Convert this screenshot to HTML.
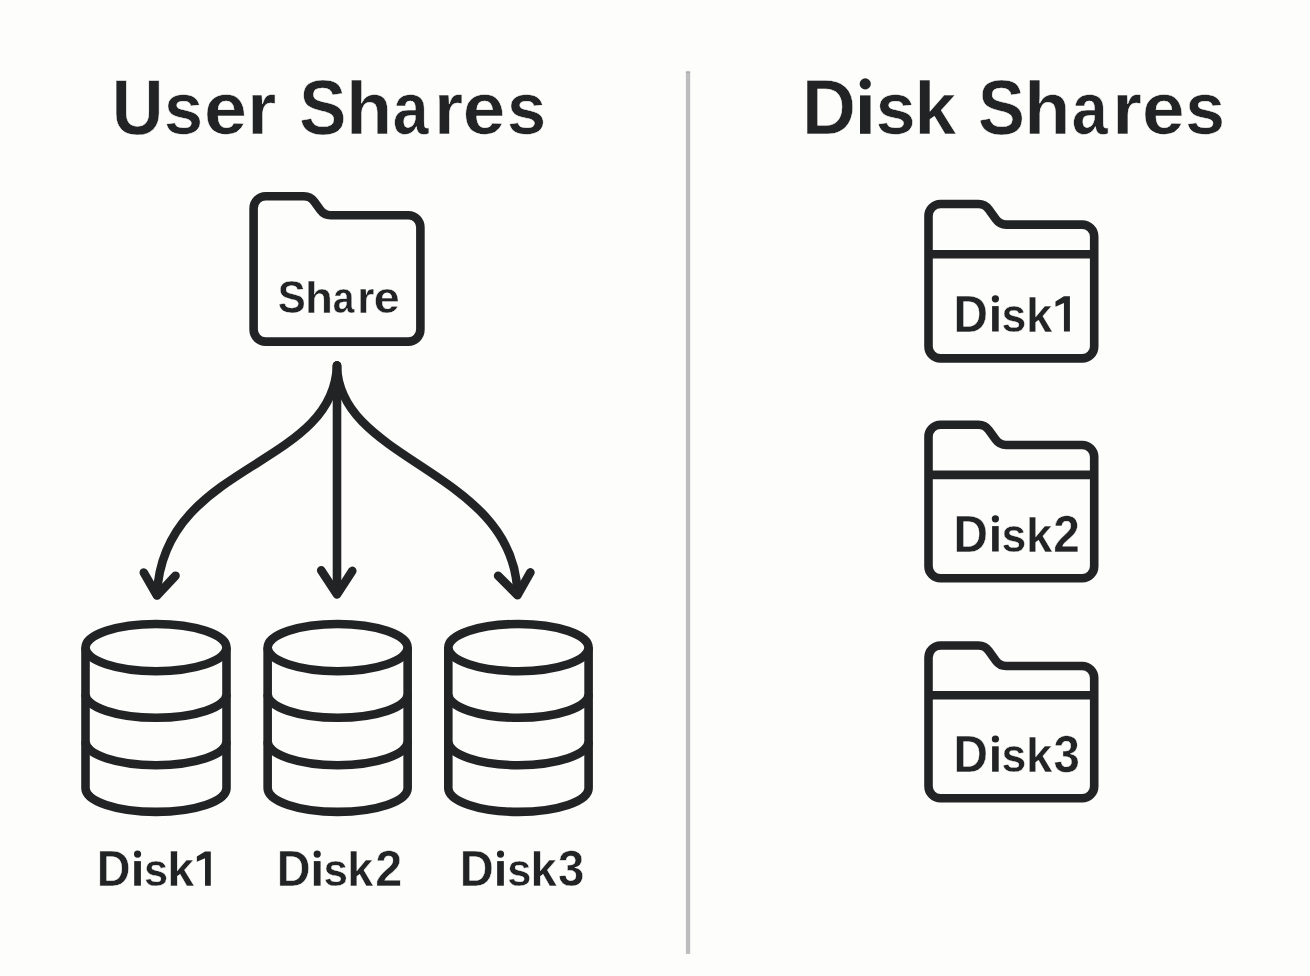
<!DOCTYPE html>
<html><head><meta charset="utf-8"><title>User Shares vs Disk Shares</title>
<style>html,body{margin:0;padding:0;background:#fdfdfc;width:1310px;height:976px;overflow:hidden}
svg{display:block;position:absolute;left:0;top:0;will-change:transform}</style></head>
<body><svg width="1310" height="976" viewBox="0 0 1310 976">
<rect x="685.9" y="71.5" width="4.3" height="882.4" fill="#bcbdbe"/><rect x="685.9" y="71.5" width="4.3" height="1.3" fill="#a9aaab"/>
<g font-family="&quot;Liberation Sans&quot;, sans-serif" font-weight="bold" fill="#222324">
<text transform="translate(111.65,133.70) scale(0.9183,1.0000)" font-size="77.98" stroke="#fdfdfc" stroke-width="0.521">U</text>
<text transform="translate(164.09,133.70) scale(0.8990,0.9403)" font-size="77.98" stroke="#fdfdfc" stroke-width="0.544">s</text>
<text transform="translate(204.08,133.70) scale(0.9905,0.9403)" font-size="77.98" stroke="#fdfdfc" stroke-width="0.518">e</text>
<text transform="translate(247.29,133.70) scale(0.9534,0.9403)" font-size="77.98" stroke="#fdfdfc" stroke-width="0.528">r</text>
<text transform="translate(299.13,133.70) scale(0.9062,1.0000)" font-size="77.98" stroke="#fdfdfc" stroke-width="0.525">S</text>
<text transform="translate(346.02,133.70) scale(0.9691,0.9499)" font-size="77.98" stroke="#fdfdfc" stroke-width="0.521">h</text>
<text transform="translate(392.71,133.70) scale(0.8250,0.9403)" font-size="77.98" stroke="#fdfdfc" stroke-width="0.567">a</text>
<text transform="translate(434.07,133.70) scale(0.9576,0.9403)" font-size="77.98" stroke="#fdfdfc" stroke-width="0.527">r</text>
<text transform="translate(462.81,133.70) scale(0.9799,0.9403)" font-size="77.98" stroke="#fdfdfc" stroke-width="0.521">e</text>
<text transform="translate(507.08,133.70) scale(0.9017,0.9403)" font-size="77.98" stroke="#fdfdfc" stroke-width="0.543">s</text>
<text transform="translate(802.10,133.80) scale(0.9588,1.0000)" font-size="77.90" stroke="#fdfdfc" stroke-width="0.511">D</text>
<text transform="translate(875.74,133.80) scale(0.9161,0.9485)" font-size="77.90" stroke="#fdfdfc" stroke-width="0.536">s</text>
<text transform="translate(914.48,133.80) scale(0.9605,0.9499)" font-size="77.90" stroke="#fdfdfc" stroke-width="0.523">k</text>
<text transform="translate(978.04,133.80) scale(0.9029,1.0000)" font-size="77.90" stroke="#fdfdfc" stroke-width="0.526">S</text>
<text transform="translate(1024.22,133.80) scale(0.9702,0.9499)" font-size="77.90" stroke="#fdfdfc" stroke-width="0.521">h</text>
<text transform="translate(1071.70,133.80) scale(0.8295,0.9485)" font-size="77.90" stroke="#fdfdfc" stroke-width="0.562">a</text>
<text transform="translate(1112.18,133.80) scale(0.9753,0.9485)" font-size="77.90" stroke="#fdfdfc" stroke-width="0.520">r</text>
<text transform="translate(1142.00,133.80) scale(0.9836,0.9485)" font-size="77.90" stroke="#fdfdfc" stroke-width="0.518">e</text>
<text transform="translate(1185.34,133.80) scale(0.9161,0.9485)" font-size="77.90" stroke="#fdfdfc" stroke-width="0.536">s</text>
<text transform="translate(277.77,312.90) scale(0.8924,1.0000)" font-size="46.98" stroke="#fdfdfc" stroke-width="0.423">S</text>
<text transform="translate(304.91,312.90) scale(0.9731,0.9499)" font-size="46.98" stroke="#fdfdfc" stroke-width="0.416">h</text>
<text transform="translate(332.86,312.90) scale(0.8303,0.9443)" font-size="46.98" stroke="#fdfdfc" stroke-width="0.451">a</text>
<text transform="translate(357.18,312.90) scale(0.9398,0.9443)" font-size="46.98" stroke="#fdfdfc" stroke-width="0.425">r</text>
<text transform="translate(373.78,312.90) scale(0.9917,0.9443)" font-size="46.98" stroke="#fdfdfc" stroke-width="0.413">e</text>
<text transform="translate(96.67,885.70) scale(0.9416,1.0000)" font-size="49.70" stroke="#fdfdfc" stroke-width="0.412">D</text>
<text transform="translate(144.05,885.70) scale(0.8732,0.9300)" font-size="49.70" stroke="#fdfdfc" stroke-width="0.444">s</text>
<text transform="translate(167.33,885.70) scale(0.9719,0.9499)" font-size="49.70" stroke="#fdfdfc" stroke-width="0.416">k</text>
<text transform="translate(276.67,885.70) scale(0.9416,1.0000)" font-size="49.70" stroke="#fdfdfc" stroke-width="0.412">D</text>
<text transform="translate(323.42,885.70) scale(0.8858,0.9300)" font-size="49.70" stroke="#fdfdfc" stroke-width="0.441">s</text>
<text transform="translate(347.14,885.70) scale(0.9388,0.9499)" font-size="49.70" stroke="#fdfdfc" stroke-width="0.424">k</text>
<text transform="translate(375.22,885.70) scale(0.9737,1.0000)" font-size="49.70" stroke="#fdfdfc" stroke-width="0.405">2</text>
<text transform="translate(459.65,885.70) scale(0.9482,1.0000)" font-size="49.70" stroke="#fdfdfc" stroke-width="0.411">D</text>
<text transform="translate(507.25,885.70) scale(0.8732,0.9300)" font-size="49.70" stroke="#fdfdfc" stroke-width="0.444">s</text>
<text transform="translate(530.60,885.70) scale(0.9512,0.9499)" font-size="49.70" stroke="#fdfdfc" stroke-width="0.421">k</text>
<text transform="translate(557.89,885.70) scale(0.9522,1.0000)" font-size="49.70" stroke="#fdfdfc" stroke-width="0.410">3</text>
<text transform="translate(953.60,331.50) scale(0.9313,1.0000)" font-size="51.30" stroke="#fdfdfc" stroke-width="0.414">D</text>
<text transform="translate(1001.60,331.50) scale(0.8704,0.9480)" font-size="51.30" stroke="#fdfdfc" stroke-width="0.440">s</text>
<text transform="translate(1026.10,331.50) scale(0.9215,0.9499)" font-size="51.30" stroke="#fdfdfc" stroke-width="0.427">k</text>
<text transform="translate(953.60,551.50) scale(0.9313,1.0000)" font-size="51.30" stroke="#fdfdfc" stroke-width="0.414">D</text>
<text transform="translate(1001.60,551.50) scale(0.8704,0.9480)" font-size="51.30" stroke="#fdfdfc" stroke-width="0.440">s</text>
<text transform="translate(1026.10,551.50) scale(0.9215,0.9499)" font-size="51.30" stroke="#fdfdfc" stroke-width="0.427">k</text>
<text transform="translate(1053.34,551.50) scale(0.9312,1.0000)" font-size="51.30" stroke="#fdfdfc" stroke-width="0.414">2</text>
<text transform="translate(953.60,771.70) scale(0.9261,1.0000)" font-size="51.59" stroke="#fdfdfc" stroke-width="0.415">D</text>
<text transform="translate(1001.60,771.70) scale(0.8655,0.9427)" font-size="51.59" stroke="#fdfdfc" stroke-width="0.442">s</text>
<text transform="translate(1026.10,771.70) scale(0.9163,0.9499)" font-size="51.59" stroke="#fdfdfc" stroke-width="0.429">k</text>
<text transform="translate(1053.39,771.70) scale(0.9173,1.0000)" font-size="51.59" stroke="#fdfdfc" stroke-width="0.417">3</text>
</g>
<path d="M860.00,95.40 H870.50 V133.80 H860.00 Z" fill="#222324"/><circle cx="865.25" cy="83.90" r="5.60" fill="#222324"/>
<path d="M134.20,861.10 H140.90 V885.70 H134.20 Z" fill="#222324"/><circle cx="137.55" cy="854.10" r="3.60" fill="#222324"/>
<path d="M313.85,861.10 H320.55 V885.70 H313.85 Z" fill="#222324"/><circle cx="317.20" cy="854.10" r="3.60" fill="#222324"/>
<path d="M497.15,861.10 H503.85 V885.70 H497.15 Z" fill="#222324"/><circle cx="500.50" cy="854.10" r="3.60" fill="#222324"/>
<path d="M992.10,306.10 H998.70 V331.50 H992.10 Z" fill="#222324"/><circle cx="995.40" cy="298.80" r="3.60" fill="#222324"/>
<path d="M992.10,526.10 H998.70 V551.50 H992.10 Z" fill="#222324"/><circle cx="995.40" cy="518.80" r="3.60" fill="#222324"/>
<path d="M992.10,746.30 H998.70 V771.70 H992.10 Z" fill="#222324"/><circle cx="995.40" cy="739.00" r="3.60" fill="#222324"/>
<path d="M196.85,856.60 L205.02,851.50 H210.80 V885.70 H205.02 V858.13 L196.85,861.73 Z" fill="#222324"/>
<path d="M1055.50,301.46 L1063.93,296.20 H1069.90 V331.50 H1063.93 V303.05 L1055.50,306.75 Z" fill="#222324"/>
<path d="M265.60,196.30 H303.90 Q310.40,196.30 314.22,201.56 L320.38,210.04 Q324.20,215.30 330.70,215.30 H408.40 A12,12 0 0 1 420.40,227.30 V329.60 A12,12 0 0 1 408.40,341.60 H265.60 A12,12 0 0 1 253.60,329.60 V208.30 A12,12 0 0 1 265.60,196.30 Z" fill="none" stroke="#222324" stroke-width="8.6" stroke-linejoin="round"/>
<path d="M940.50,204.00 H978.40 Q984.90,204.00 988.69,209.28 L995.91,219.32 Q999.70,224.60 1006.20,224.60 H1082.20 A12,12 0 0 1 1094.20,236.60 V346.40 A12,12 0 0 1 1082.20,358.40 H940.50 A12,12 0 0 1 928.50,346.40 V216.00 A12,12 0 0 1 940.50,204.00 Z" fill="none" stroke="#222324" stroke-width="8.6" stroke-linejoin="round"/><line x1="928.50" y1="254.30" x2="1094.20" y2="254.30" stroke="#222324" stroke-width="8.6"/>
<path d="M940.50,424.80 H978.40 Q984.90,424.80 988.74,430.04 L995.86,439.76 Q999.70,445.00 1006.20,445.00 H1082.20 A12,12 0 0 1 1094.20,457.00 V566.30 A12,12 0 0 1 1082.20,578.30 H940.50 A12,12 0 0 1 928.50,566.30 V436.80 A12,12 0 0 1 940.50,424.80 Z" fill="none" stroke="#222324" stroke-width="8.6" stroke-linejoin="round"/><line x1="928.50" y1="474.90" x2="1094.20" y2="474.90" stroke="#222324" stroke-width="8.6"/>
<path d="M940.50,645.50 H978.40 Q984.90,645.50 988.70,650.77 L995.90,660.73 Q999.70,666.00 1006.20,666.00 H1082.20 A12,12 0 0 1 1094.20,678.00 V786.20 A12,12 0 0 1 1082.20,798.20 H940.50 A12,12 0 0 1 928.50,786.20 V657.50 A12,12 0 0 1 940.50,645.50 Z" fill="none" stroke="#222324" stroke-width="8.6" stroke-linejoin="round"/><line x1="928.50" y1="695.30" x2="1094.20" y2="695.30" stroke="#222324" stroke-width="8.6"/>
<path d="M337,365.5 C333.66,468.44 162.87,461.87 157,594.5" fill="none" stroke="#222324" stroke-width="8.6" stroke-linecap="round"/>
<path d="M337,365.5 C338.23,462.75 514.93,470.05 517.5,594.5" fill="none" stroke="#222324" stroke-width="8.6" stroke-linecap="round"/>
<path d="M337,365.5 V593" fill="none" stroke="#222324" stroke-width="8.6" stroke-linecap="round"/>
<path d="M143.8,572.6 L157,595.5 L175.5,575.7" fill="none" stroke="#222324" stroke-width="8.6" stroke-linecap="round" stroke-linejoin="round"/>
<path d="M321.2,570.3 L337,594.5 L352.3,570.9" fill="none" stroke="#222324" stroke-width="8.6" stroke-linecap="round" stroke-linejoin="round"/>
<path d="M498.1,575.7 L517.5,595.2 L530.4,572.4" fill="none" stroke="#222324" stroke-width="8.6" stroke-linecap="round" stroke-linejoin="round"/>
<ellipse cx="156" cy="647.6" rx="70.5" ry="23.6" fill="none" stroke="#222324" stroke-width="8.6"/><path d="M85.5,647.6 V788.3 A70.5,23.6 0 0 0 226.5,788.3 V647.6" stroke="#222324" stroke-width="8.6" fill="none" stroke-linejoin="round"/><path d="M85.5,694.2 A70.5,23.6 0 0 0 226.5,694.2" stroke="#222324" stroke-width="8.6" fill="none"/><path d="M85.5,741.6 A70.5,23.6 0 0 0 226.5,741.6" stroke="#222324" stroke-width="8.6" fill="none"/>
<ellipse cx="337.65" cy="647.6" rx="70" ry="23.6" fill="none" stroke="#222324" stroke-width="8.6"/><path d="M267.65,647.6 V788.3 A70,23.6 0 0 0 407.65,788.3 V647.6" stroke="#222324" stroke-width="8.6" fill="none" stroke-linejoin="round"/><path d="M267.65,694.2 A70,23.6 0 0 0 407.65,694.2" stroke="#222324" stroke-width="8.6" fill="none"/><path d="M267.65,741.6 A70,23.6 0 0 0 407.65,741.6" stroke="#222324" stroke-width="8.6" fill="none"/>
<ellipse cx="518.45" cy="647.6" rx="70.15" ry="23.6" fill="none" stroke="#222324" stroke-width="8.6"/><path d="M448.30000000000007,647.6 V788.3 A70.15,23.6 0 0 0 588.6,788.3 V647.6" stroke="#222324" stroke-width="8.6" fill="none" stroke-linejoin="round"/><path d="M448.30000000000007,694.2 A70.15,23.6 0 0 0 588.6,694.2" stroke="#222324" stroke-width="8.6" fill="none"/><path d="M448.30000000000007,741.6 A70.15,23.6 0 0 0 588.6,741.6" stroke="#222324" stroke-width="8.6" fill="none"/>
</svg></body></html>
